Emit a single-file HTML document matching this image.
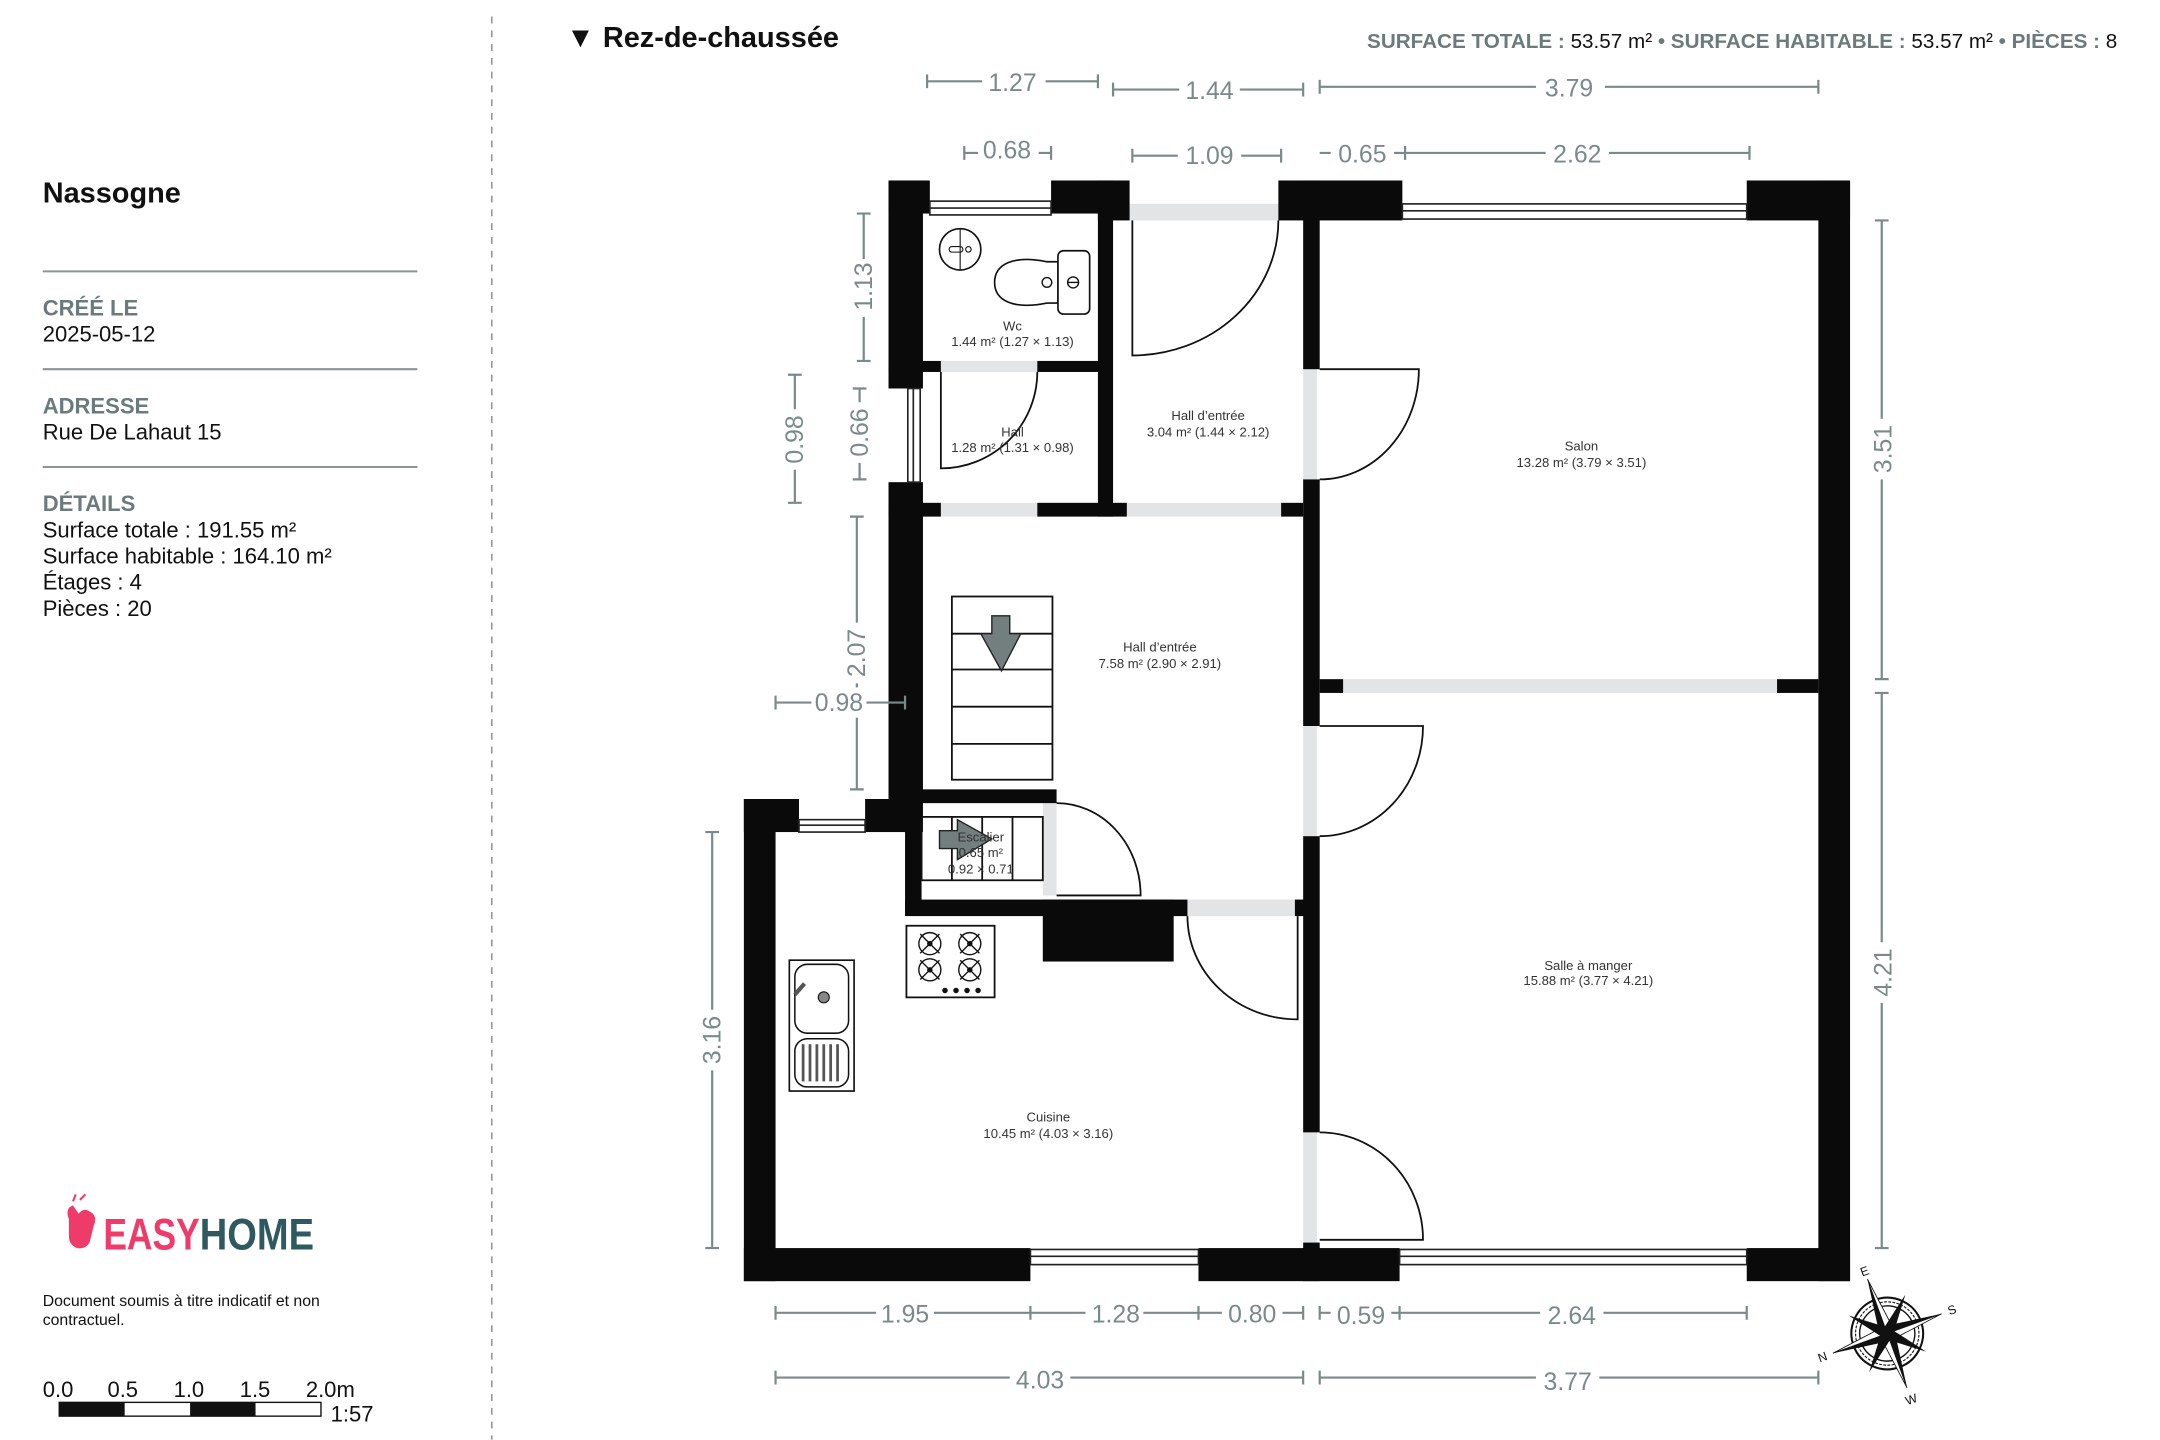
<!DOCTYPE html>
<html><head><meta charset="utf-8"><style>
html,body{margin:0;padding:0;background:#fff;width:2160px;height:1440px;overflow:hidden}
svg{display:block}
.t{font-family:"Liberation Sans",sans-serif}
.n{font-family:"Liberation Sans Narrow","Liberation Sans",sans-serif}
.dim{stroke:#7a8a8a;stroke-width:1.6;fill:none}
.dt{font-family:"Liberation Sans",sans-serif;font-size:18px;fill:#7a8a8a;text-anchor:middle}
.rl{font-family:"Liberation Sans",sans-serif;font-size:9.5px;fill:#333;text-anchor:middle}
.w{fill:#0a0a0a}
.g{fill:#e2e4e6}
.ln{stroke:#111;stroke-width:1.3;fill:none}
</style></head><body>
<svg width="2160" height="1440" viewBox="0 0 1568 1045.3" xmlns="http://www.w3.org/2000/svg">
<rect width="1568" height="1046" fill="#fff"/>
<!-- left panel -->
<line x1="357" y1="12" x2="357" y2="1045" stroke="#999" stroke-width="1.2" stroke-dasharray="5,5"/>
<text x="31" y="147" class="t" font-size="21" font-weight="bold" fill="#111">Nassogne</text>
<line x1="31" y1="197" x2="303" y2="197" stroke="#8a9595" stroke-width="1.5"/>
<text x="31" y="229" class="n" font-size="16" font-weight="bold" fill="#6b7b7b">CRÉÉ LE</text>
<text x="31" y="248" class="t" font-size="16" fill="#111">2025-05-12</text>
<line x1="31" y1="268" x2="303" y2="268" stroke="#8a9595" stroke-width="1.5"/>
<text x="31" y="300" class="n" font-size="16" font-weight="bold" fill="#6b7b7b">ADRESSE</text>
<text x="31" y="319" class="t" font-size="16" fill="#111">Rue De Lahaut 15</text>
<line x1="31" y1="339" x2="303" y2="339" stroke="#8a9595" stroke-width="1.5"/>
<text x="31" y="371" class="n" font-size="16" font-weight="bold" fill="#6b7b7b">DÉTAILS</text>
<text x="31" y="390" class="t" font-size="16" fill="#111">Surface totale : 191.55 m²</text>
<text x="31" y="409" class="t" font-size="16" fill="#111">Surface habitable : 164.10 m²</text>
<text x="31" y="428" class="t" font-size="16" fill="#111">Étages : 4</text>
<text x="31" y="447" class="t" font-size="16" fill="#111">Pièces : 20</text>
<!-- logo -->
<path d="M50 885 q-3 -8 3 -10 l4 6 q4 -5 9 -1 q5 3 2 10 l-3 12 q-3 5 -9 4 q-6 -2 -6 -9z" fill="#ef3b6a"/>
<path d="M53 872 l2 -5 M58 871 l4 -4" stroke="#ef3b6a" stroke-width="1.5"/>
<text x="75" y="907" class="n" font-size="32" font-weight="bold" fill="#ef3b6a" textLength="70" lengthAdjust="spacingAndGlyphs">EASY</text>
<text x="145" y="907" class="n" font-size="32" font-weight="bold" fill="#2e5a5f" textLength="83" lengthAdjust="spacingAndGlyphs">HOME</text>
<text x="31" y="948" class="t" font-size="11.5" fill="#111">Document soumis à titre indicatif et non</text>
<text x="31" y="962" class="t" font-size="11.5" fill="#111">contractuel.</text>
<g class="t" font-size="16" fill="#111">
<text x="31" y="1014">0.0</text><text x="78" y="1014">0.5</text><text x="126" y="1014">1.0</text><text x="174" y="1014">1.5</text><text x="222" y="1014">2.0m</text>
<text x="240" y="1032">1:57</text></g>
<rect x="43" y="1018" width="190" height="10" fill="#fff" stroke="#111" stroke-width="1"/>
<rect x="43" y="1018" width="47.5" height="10" fill="#111"/>
<rect x="138" y="1018" width="47.5" height="10" fill="#111"/>
<!-- header -->
<text x="411" y="34" class="t" font-size="21" font-weight="bold" fill="#111">▼ Rez-de-chaussée</text>
<text x="1537" y="35" class="n" font-size="15" text-anchor="end"><tspan fill="#6b7b7b" font-weight="bold">SURFACE TOTALE : </tspan><tspan fill="#111">53.57 m² </tspan><tspan fill="#6b7b7b" font-weight="bold">• SURFACE HABITABLE : </tspan><tspan fill="#111">53.57 m² </tspan><tspan fill="#6b7b7b" font-weight="bold">• PIÈCES : </tspan><tspan fill="#111"> 8</tspan></text>

<!-- openings gray -->
<rect class="g" x="820" y="148" width="108" height="12"/>
<rect class="g" x="683" y="262" width="70" height="8"/>
<rect class="g" x="683" y="365" width="70" height="10"/>
<rect class="g" x="818" y="365" width="112" height="10"/>
<rect class="g" x="946" y="268" width="10" height="80"/>
<rect class="g" x="946" y="527" width="10" height="80"/>
<rect class="g" x="946" y="822" width="10" height="80"/>
<rect class="g" x="975" y="493" width="315" height="10"/>
<rect class="g" x="757" y="583" width="10" height="67"/>
<rect class="g" x="862" y="653" width="78" height="12"/>

<!-- walls -->
<g class="w">
<rect x="645" y="131" width="30" height="24"/>
<rect x="763" y="131" width="45" height="24"/>
<rect x="797" y="131" width="23" height="29"/>
<rect x="928" y="131" width="90" height="29"/>
<rect x="1268" y="131" width="75" height="29"/>
<rect x="1320" y="131" width="23" height="799"/>
<rect x="540" y="906" width="208" height="24"/>
<rect x="870" y="906" width="146" height="24"/>
<rect x="1268" y="906" width="75" height="24"/>
<rect x="645" y="131" width="25" height="151"/>
<rect x="645" y="350" width="25" height="230"/>
<rect x="645" y="262" width="38" height="8"/>
<rect x="753" y="262" width="50" height="8"/>
<rect x="797" y="131" width="11" height="244"/>
<rect x="645" y="365" width="38" height="10"/>
<rect x="753" y="365" width="65" height="10"/>
<rect x="930" y="365" width="16" height="10"/>
<rect x="946" y="131" width="12" height="137"/>
<rect x="946" y="348" width="12" height="179"/>
<rect x="946" y="607" width="12" height="215"/>
<rect x="946" y="902" width="12" height="28"/>
<rect x="958" y="493" width="17" height="10"/>
<rect x="1290" y="493" width="30" height="10"/>
<rect x="540" y="580" width="23" height="350"/>
<rect x="540" y="580" width="40" height="24"/>
<rect x="628" y="580" width="42" height="24"/>
<rect x="657" y="573" width="110" height="10"/>
<rect x="657" y="573" width="12" height="90"/>
<rect x="657" y="653" width="205" height="12"/>
<rect x="940" y="653" width="8" height="12"/>
<rect x="757" y="653" width="95" height="45"/>
</g>
<!-- windows -->
<g stroke="#222" stroke-width="1.2" fill="#fff">
<rect x="675" y="146" width="88" height="10"/><line x1="675" y1="151" x2="763" y2="151"/>
<rect x="1018" y="148" width="250" height="11"/><line x1="1018" y1="153" x2="1268" y2="153"/>
<rect x="748" y="907" width="122" height="11"/><line x1="748" y1="912" x2="870" y2="912"/>
<rect x="1016" y="907" width="252" height="11"/><line x1="1016" y1="912" x2="1268" y2="912"/>
<rect x="580" y="595" width="48" height="9"/><line x1="580" y1="599" x2="628" y2="599"/>
<rect x="659" y="282" width="9" height="68"/><line x1="663" y1="282" x2="663" y2="350"/>
</g>
<!-- doors -->
<g class="ln">
<path d="M822 160 V258 A106 98 0 0 0 928 160"/>
<path d="M683 270 V340 A70 70 0 0 0 753 270"/>
<path d="M958 268 H1030 A72 80 0 0 1 958 348"/>
<path d="M958 527 H1033 A75 80 0 0 1 958 607"/>
<path d="M958 822 A75 78 0 0 1 1033 900 H958"/>
<path d="M767 583 A61 67 0 0 1 828 650 H767"/>
<path d="M862 665 A80 75 0 0 0 942 740 V665"/>
</g>
<!-- stairs -->
<g class="ln">
<rect x="691" y="433" width="73" height="133"/>
<line x1="691" y1="460" x2="764" y2="460"/><line x1="691" y1="486" x2="764" y2="486"/>
<line x1="691" y1="513" x2="764" y2="513"/><line x1="691" y1="540" x2="764" y2="540"/>
<rect x="669" y="593" width="88" height="46"/>
<line x1="691" y1="593" x2="691" y2="639"/><line x1="713" y1="593" x2="713" y2="639"/><line x1="735" y1="593" x2="735" y2="639"/>
</g>
<path d="M720 447 H733 V460 H741 L727 487 L712 460 H720Z" fill="#737f7f" stroke="#222" stroke-width="1"/>
<path d="M682 603 H695 V595 L720 609 L695 624 V616 H682Z" fill="#737f7f" stroke="#222" stroke-width="1"/>
<!-- stove -->
<rect x="658" y="672" width="64" height="52" fill="#fff" stroke="#111" stroke-width="1.3"/>
<g stroke="#111" stroke-width="1" fill="none">
<circle cx="675" cy="685" r="8"/><circle cx="704" cy="685" r="8"/><circle cx="675" cy="704" r="8"/><circle cx="704" cy="704" r="8"/>
<path d="M668 678l14 14M682 678l-14 14M697 678l14 14M711 678l-14 14M668 697l14 14M682 697l-14 14M697 697l14 14M711 697l-14 14"/>
</g>
<g fill="#111"><circle cx="675" cy="685" r="2"/><circle cx="704" cy="685" r="2"/><circle cx="675" cy="704" r="2"/><circle cx="704" cy="704" r="2"/>
<circle cx="686" cy="719" r="2"/><circle cx="694" cy="719" r="2"/><circle cx="702" cy="719" r="2"/><circle cx="710" cy="719" r="2"/></g>
<!-- sink -->
<rect x="573" y="697" width="47" height="95" fill="#fff" stroke="#111" stroke-width="1.2"/>
<rect x="577" y="700" width="39" height="50" rx="9" fill="#fff" stroke="#111" stroke-width="1.1"/>
<circle cx="598" cy="724" r="4" fill="#888" stroke="#111" stroke-width="0.8"/>
<line x1="577" y1="722" x2="584" y2="714" stroke="#555" stroke-width="3"/>
<rect x="577" y="754" width="39" height="35" rx="9" fill="#fff" stroke="#111" stroke-width="1.1"/>
<g stroke="#555" stroke-width="2"><line x1="583" y1="758" x2="583" y2="785"/><line x1="588" y1="758" x2="588" y2="785"/><line x1="593" y1="758" x2="593" y2="785"/><line x1="598" y1="758" x2="598" y2="785"/><line x1="603" y1="758" x2="603" y2="785"/><line x1="608" y1="758" x2="608" y2="785"/></g>
<!-- wc fixtures -->
<circle cx="697" cy="181" r="15" fill="#fff" stroke="#111" stroke-width="1.2"/>
<line x1="697" y1="166" x2="697" y2="196" stroke="#111" stroke-width="0.8"/>
<rect x="689" y="179" width="10" height="4" rx="2" fill="none" stroke="#111" stroke-width="0.8"/>
<circle cx="703" cy="181" r="2" fill="none" stroke="#111" stroke-width="0.8"/>
<path d="M768 190 H760 C735 185 722 192 722 205 C722 218 735 225 760 220 H768Z" fill="#fff" stroke="#111" stroke-width="1.2"/>
<rect x="768" y="182" width="23" height="46" rx="4" fill="#fff" stroke="#111" stroke-width="1.2"/>
<circle cx="760" cy="205" r="3.5" fill="none" stroke="#111" stroke-width="1"/>
<circle cx="779" cy="205" r="4" fill="none" stroke="#111" stroke-width="1"/><line x1="775" y1="205" x2="783" y2="205" stroke="#111"/>
<!-- room labels -->
<text class="rl" x="735" y="240">Wc</text><text class="rl" x="735" y="251">1.44 m² (1.27 × 1.13)</text>
<text class="rl" x="735" y="317">Hall</text><text class="rl" x="735" y="328">1.28 m² (1.31 × 0.98)</text>
<text class="rl" x="877" y="305">Hall d’entrée</text><text class="rl" x="877" y="317">3.04 m² (1.44 × 2.12)</text>
<text class="rl" x="1148" y="327">Salon</text><text class="rl" x="1148" y="339">13.28 m² (3.79 × 3.51)</text>
<text class="rl" x="842" y="473">Hall d’entrée</text><text class="rl" x="842" y="485">7.58 m² (2.90 × 2.91)</text>
<text class="rl" x="712" y="611">Escalier</text><text class="rl" x="712" y="622">0.65 m²</text><text class="rl" x="712" y="634">0.92 × 0.71</text>
<text class="rl" x="1153" y="704">Salle à manger</text><text class="rl" x="1153" y="715">15.88 m² (3.77 × 4.21)</text>
<text class="rl" x="761" y="814">Cuisine</text><text class="rl" x="761" y="826">10.45 m² (4.03 × 3.16)</text>

<!-- dimensions -->
<g class="dim">
<path d="M673 59H797M673 54v10M797 54v10M808 65H946M808 60v10M946 60v10M958 63H1320M958 58v10M1320 58v10"/>
<path d="M700 111H763M700 106v10M763 106v10M822 113H930M822 108v10M930 108v10M958 111H1020M1020 106v10M1020 111H1270M1270 106v10"/>
<path d="M563 510H657M563 505v10M657 505v10"/>
<path d="M563 953H946M563 948v10M748 948v10M870 948v10M946 948v10M958 953H1268M958 948v10M1016 948v10M1268 948v10"/>
<path d="M563 1000H946M563 995v10M946 995v10M958 1000H1320M958 995v10M1320 995v10"/>
<path d="M627 155V262M622 155h10M622 262h10M577 272V365M572 272h10M572 365h10M624 282V348M619 282h10M619 348h10M622 375V573M617 375h10M617 573h10M517 604V906M512 604h10M512 906h10M1366 160V493M1361 160h10M1361 493h10M1366 503V906M1361 503h10M1361 906h10"/>
</g>
<g fill="#fff">
<rect x="713" y="48" width="46" height="22"/><rect x="856" y="54" width="44" height="22"/><rect x="1115" y="52" width="50" height="22"/>
<rect x="710" y="99" width="44" height="22"/><rect x="855" y="101" width="46" height="22"/><rect x="966" y="99" width="46" height="22"/><rect x="1122" y="99" width="46" height="22"/>
<rect x="589" y="499" width="40" height="22"/>
<rect x="636" y="942" width="42" height="22"/><rect x="788" y="942" width="42" height="22"/><rect x="887" y="942" width="44" height="22"/><rect x="966" y="942" width="44" height="22"/><rect x="1118" y="942" width="46" height="22"/>
<rect x="733" y="989" width="44" height="22"/><rect x="1115" y="989" width="46" height="22"/>
<rect x="616" y="188" width="22" height="42"/><rect x="566" y="297" width="22" height="44"/><rect x="613" y="292" width="22" height="44"/><rect x="611" y="452" width="22" height="44"/><rect x="506" y="733" width="22" height="44"/><rect x="1355" y="304" width="22" height="44"/><rect x="1355" y="684" width="22" height="44"/>
</g>
<g class="dt">
<text x="735" y="66">1.27</text><text x="878" y="72">1.44</text><text x="1139" y="70">3.79</text>
<text x="731" y="115">0.68</text><text x="878" y="119">1.09</text><text x="989" y="118">0.65</text><text x="1145" y="118">2.62</text>
<text x="609" y="516">0.98</text>
<text x="657" y="960">1.95</text><text x="810" y="960">1.28</text><text x="909" y="960">0.80</text><text x="988" y="961">0.59</text><text x="1141" y="961">2.64</text>
<text x="755" y="1008">4.03</text><text x="1138" y="1009">3.77</text>
<text transform="translate(633,208) rotate(-90)">1.13</text>
<text transform="translate(583,319) rotate(-90)">0.98</text>
<text transform="translate(630,314) rotate(-90)">0.66</text>
<text transform="translate(628,474) rotate(-90)">2.07</text>
<text transform="translate(523,755) rotate(-90)">3.16</text>
<text transform="translate(1373,326) rotate(-90)">3.51</text>
<text transform="translate(1373,706) rotate(-90)">4.21</text>
</g>
<!-- compass -->
<g transform="translate(1370,968) rotate(-20)">
<circle r="26" fill="none" stroke="#111" stroke-width="1.5"/><circle r="23" fill="none" stroke="#111" stroke-width="0.8" stroke-dasharray="2,1"/><circle r="20" fill="none" stroke="#111" stroke-width="1"/>
<path d="M0 -42 L5 -5 L42 0 L5 5 L0 42 L-5 5 L-42 0 L-5 -5Z" fill="#111"/>
<path d="M0 -42 L5 -5 L0 0Z M42 0 L5 5 L0 0Z M0 42 L-5 5 L0 0Z M-42 0 L-5 -5 L0 0Z" fill="#fff" stroke="#111" stroke-width="0.6"/>
<path d="M-22 -22 L3 -3 L22 22 L-3 3Z M22 -22 L3 3 L-22 22 L-3 -3Z" fill="#111"/>
<g class="t" font-size="9" fill="#111" text-anchor="middle"><text x="0" y="-45">E</text><text x="50" y="3">S</text><text x="0" y="54">W</text><text x="-50" y="3">N</text></g>
</g>
</svg>
</body></html>
